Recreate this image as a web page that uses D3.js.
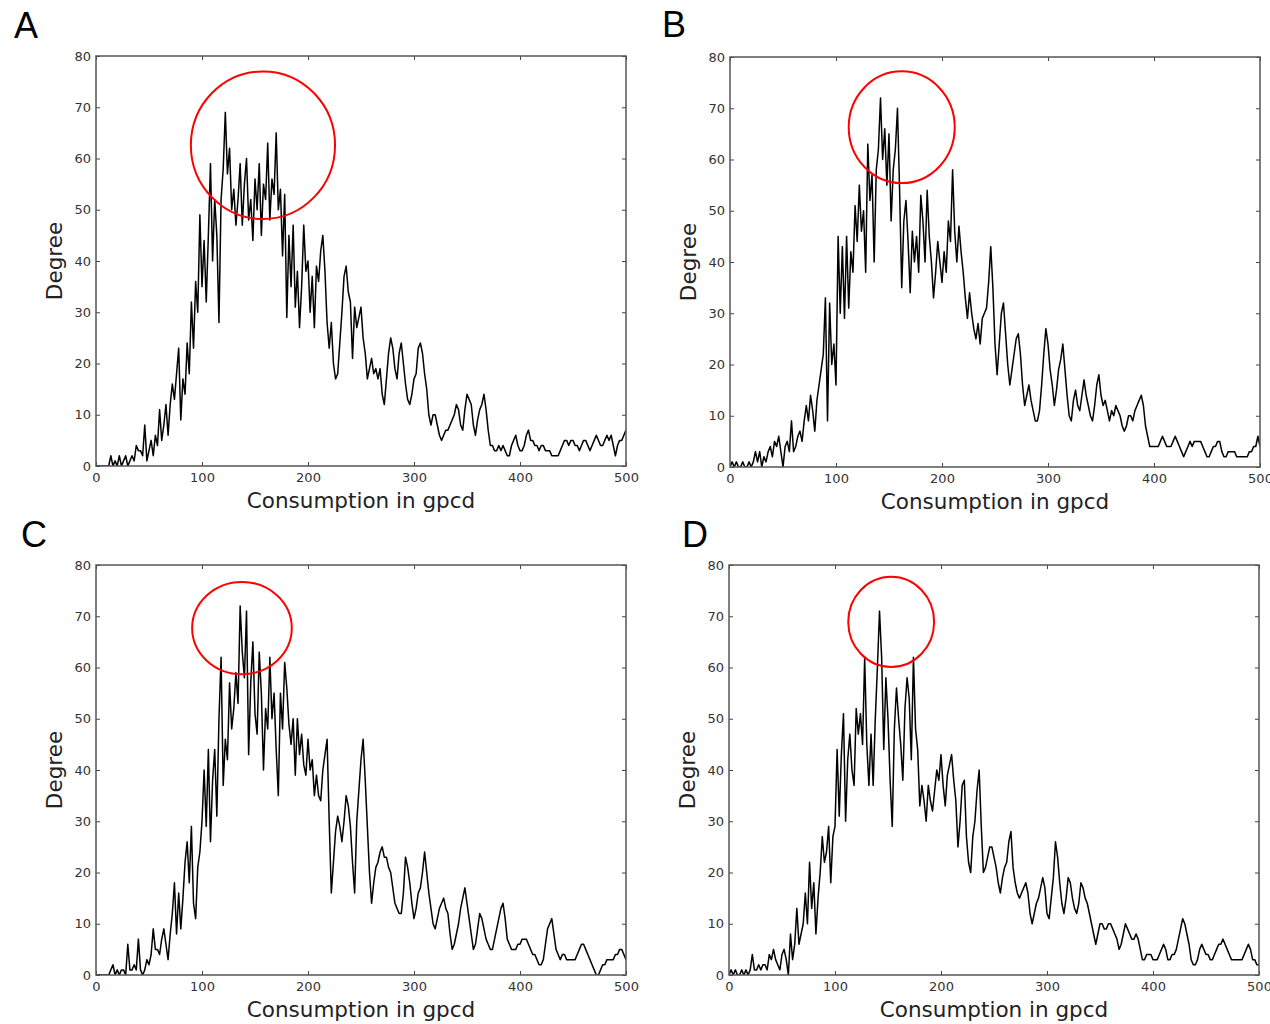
<!DOCTYPE html>
<html>
<head>
<meta charset="utf-8">
<script src="https://cdn.jsdelivr.net/npm/d3@7"></script>
<style>
  body { margin: 0; background: #fff; }
  svg { display: block; }
</style>
</head>
<body>
<svg id="chart" width="1270" height="1024"></svg>
<script>
// x grid: consumption in gpcd, every 2 gpcd
const gpcd = d3.range(0, 501, 2)

// degree, one value per gpcd step
const degreeA = [
  0,0,0,0,0,0,0,2,0,1,
  0,2,0,1,2,0,1,2,1,4,
  3,3,2,8,1,3,5,2,6,4,
  11,5,8,12,6,12,16,13,18,23,
  9,17,14,24,18,32,23,36,30,49,
  35,44,32,45,59,40,52,45,28,52,
  58,69,57,62,50,54,47,52,59,47,
  55,60,48,52,44,56,50,59,45,55,
  52,63,48,56,53,65,50,54,41,53,
  29,45,35,47,31,38,27,35,47,38,
  40,30,37,27,39,36,42,45,38,28,
  23,28,20,17,18,24,30,37,39,34,
  32,21,31,27,29,31,25,22,17,19,
  21,18,19,17,19,14,12,17,22,25,
  23,19,17,22,24,20,16,13,12,14,
  17,18,23,24,22,18,15,10,8,10,
  10,8,6,5,6,7,7,8,9,10,
  12,11,8,7,11,14,13,12,8,6,
  9,11,12,14,11,7,4,4,3,3,
  4,3,4,3,2,2,4,5,6,4,
  3,3,4,6,7,5,5,4,4,3,
  4,4,3,3,3,2,2,2,2,3,
  4,5,5,4,5,5,4,4,3,4,
  5,5,4,3,4,5,6,5,4,4,
  5,6,5,6,4,2,4,5,5,6,
  7
]
const degreeB = [
  0,1,0,1,0,0,1,0,0,1,
  0,1,3,1,3,0,2,1,3,4,
  2,5,4,6,3,0,4,5,3,9,
  3,4,6,7,5,9,12,9,14,11,
  7,13,16,19,22,33,9,32,20,24,
  16,45,30,43,29,45,31,42,38,51,
  44,55,46,50,38,63,52,57,40,58,
  62,72,60,66,55,65,48,58,62,70,
  54,35,48,52,44,34,46,40,45,38,
  53,48,40,54,45,40,33,38,44,40,
  36,42,38,48,44,58,46,40,47,42,
  38,33,29,34,30,27,25,28,24,29,
  30,31,36,43,35,24,18,24,30,32,
  26,20,16,19,22,25,26,22,16,12,
  14,16,13,11,9,9,11,16,22,27,
  24,19,16,12,15,19,21,24,19,14,
  10,9,13,15,12,11,14,17,14,12,
  10,9,12,16,18,14,12,13,11,9,
  11,10,12,11,10,8,7,8,10,10,
  9,11,12,13,14,12,8,6,4,4,
  4,4,4,5,6,5,4,4,4,5,
  6,5,4,3,2,3,4,5,4,5,
  5,5,5,4,3,2,2,3,4,4,
  5,5,3,2,2,3,3,3,3,2,
  2,2,2,2,2,3,3,4,4,6,
  4
]
const degreeC = [
  0,0,0,0,0,0,0,1,2,0,
  1,0,1,1,0,6,1,1,2,1,
  7,1,0,1,3,2,4,9,5,5,
  4,7,9,6,3,8,12,18,8,16,
  9,15,22,26,18,29,14,11,21,24,
  30,40,29,44,26,38,44,31,50,62,
  37,46,42,57,48,52,59,53,72,63,
  58,71,43,57,65,51,47,63,55,40,
  52,48,62,50,55,44,35,55,48,61,
  56,49,45,50,39,50,43,47,41,39,
  46,40,42,35,39,35,34,40,43,46,
  30,16,22,28,31,29,26,30,35,33,
  29,22,16,30,36,42,46,38,29,20,
  14,18,21,22,24,25,23,23,21,20,
  17,14,13,12,12,16,23,21,18,14,
  11,13,16,17,20,24,20,16,13,10,
  9,11,13,14,15,13,12,8,5,6,
  8,10,13,15,17,14,11,8,5,6,
  9,12,11,9,7,6,5,5,7,9,
  11,13,14,11,7,6,5,5,5,6,
  6,7,7,7,6,5,4,4,3,2,
  2,3,6,9,10,11,8,5,4,3,
  4,4,3,3,3,3,3,4,5,6,
  6,5,4,3,2,1,0,0,1,2,
  2,3,3,3,3,4,4,5,5,4,
  3
]
const degreeD = [
  0,1,0,1,0,0,1,0,1,0,
  1,4,1,1,2,1,2,2,1,4,
  3,5,3,2,1,4,5,3,0,8,
  3,6,13,6,8,10,16,10,22,13,
  18,8,15,20,27,22,24,29,18,27,
  29,44,31,43,51,30,42,47,40,37,
  52,47,51,45,62,45,37,47,37,50,
  60,71,62,44,58,50,38,29,48,56,
  50,45,38,52,58,54,42,62,48,44,
  33,37,34,30,37,34,32,36,40,38,
  43,37,33,39,41,43,38,34,25,30,
  37,38,27,22,20,27,30,36,40,29,
  20,21,23,25,25,23,21,18,16,19,
  21,22,26,28,21,18,16,15,16,17,
  18,16,12,10,12,14,15,17,19,17,
  12,11,15,19,26,23,18,14,12,15,
  19,18,15,13,12,14,18,17,15,14,
  12,10,8,6,8,10,10,9,9,10,
  10,9,8,7,5,6,8,10,9,8,
  7,7,8,7,5,3,3,4,4,4,
  3,3,3,4,5,6,5,3,3,4,
  4,5,7,9,11,10,8,6,3,2,
  2,3,5,6,5,4,4,3,3,4,
  5,6,6,7,6,5,4,3,3,3,
  3,3,3,4,5,6,5,3,3,2,
  2
]

// red highlight around the peak: [centre gpcd, centre degree, radius gpcd, radius degree]
const peakA = [157.5, 62.6, 68, 14.4]
const peakB = [162, 66.3, 50, 10.9]
const peakC = [137.7, 67.7, 47, 9]
const peakD = [153, 68.9, 40.5, 8.8]

const panelLetters = ['A', 'B', 'C', 'D']
const xTicks = [0, 100, 200, 300, 400, 500]
const yTicks = [0, 10, 20, 30, 40, 50, 60, 70, 80]
const xTitle = 'Consumption in gpcd'
const yTitle = 'Degree'

const plotW = 530
const plotH = 410
const font = "'DejaVu Sans', sans-serif"

const panels = [
  {letter: panelLetters[0], values: degreeA, peak: peakA, left: 96, top: 56, lx: 14, ly: 38},
  {letter: panelLetters[1], values: degreeB, peak: peakB, left: 730, top: 57, lx: 662, ly: 37},
  {letter: panelLetters[2], values: degreeC, peak: peakC, left: 96, top: 565, lx: 21, ly: 547},
  {letter: panelLetters[3], values: degreeD, peak: peakD, left: 729, top: 565, lx: 682, ly: 547}
]

const svg = d3.select('#chart')

let drawPanel = function (p, idx) {
  let x = d3.scaleLinear().domain([0, 500]).range([0, plotW])
  let y = d3.scaleLinear().domain([0, 80]).range([plotH, 0])
  let g = svg.append('g').attr('transform', `translate(${p.left},${p.top})`)

  g.append('clipPath').attr('id', `clip${idx}`)
    .append('rect').attr('width', plotW).attr('height', plotH)

  let series = gpcd.map((v, i) => ({x: v, y: p.values[i]}))
  g.append('path')
    .datum(series)
    .attr('clip-path', `url(#clip${idx})`)
    .style('fill', 'none')
    .style('stroke', '#000')
    .style('stroke-width', 1.5)
    .style('stroke-linejoin', 'round')
    .attr('d', d3.line().x(d => x(d.x)).y(d => y(d.y)))

  // axes, matplotlib classic: ticks inside on all four sides
  let styleAxis = sel => {
    sel.select('.domain').remove()
    sel.selectAll('line').style('stroke', '#444')
    sel.selectAll('text').style('font-family', font).style('font-size', '13px').style('fill', '#333')
  }
  g.append('g').attr('transform', `translate(0,${plotH})`)
    .call(d3.axisBottom(x).tickValues(xTicks).tickSizeInner(-4).tickSizeOuter(0).tickPadding(7))
    .call(styleAxis)
  g.append('g')
    .call(d3.axisLeft(y).tickValues(yTicks).tickSizeInner(-4).tickSizeOuter(0).tickPadding(5))
    .call(styleAxis)
  g.append('g')
    .call(d3.axisTop(x).tickValues(xTicks).tickSizeInner(-4).tickSizeOuter(0).tickFormat(''))
    .call(styleAxis)
  g.append('g').attr('transform', `translate(${plotW},0)`)
    .call(d3.axisRight(y).tickValues(yTicks).tickSizeInner(-4).tickSizeOuter(0).tickFormat(''))
    .call(styleAxis)

  g.append('rect')
    .attr('width', plotW).attr('height', plotH)
    .style('fill', 'none').style('stroke', '#555').style('stroke-width', 1.5)

  // highlight of the peak region
  let [cx, cy, rx, ry] = p.peak
  g.append('ellipse')
    .attr('cx', x(cx)).attr('cy', y(cy))
    .attr('rx', x(cx + rx) - x(cx)).attr('ry', y(cy) - y(cy + ry))
    .style('fill', 'none').style('stroke', '#f00').style('stroke-width', 2)

  // titles
  g.append('text')
    .attr('x', plotW / 2).attr('y', plotH + 42)
    .attr('text-anchor', 'middle')
    .style('font-family', font).style('font-size', '21.5px').style('fill', '#222')
    .text(xTitle)
  g.append('text')
    .attr('transform', `translate(-34,${plotH / 2}) rotate(-90)`)
    .attr('text-anchor', 'middle')
    .style('font-family', font).style('font-size', '21.5px').style('fill', '#222')
    .text(yTitle)

  svg.append('text')
    .attr('x', p.lx).attr('y', p.ly)
    .style('font-family', "'Liberation Sans', sans-serif").style('font-size', '36px').style('fill', '#000')
    .text(p.letter)
}

panels.forEach(drawPanel)
</script>
</body>
</html>
